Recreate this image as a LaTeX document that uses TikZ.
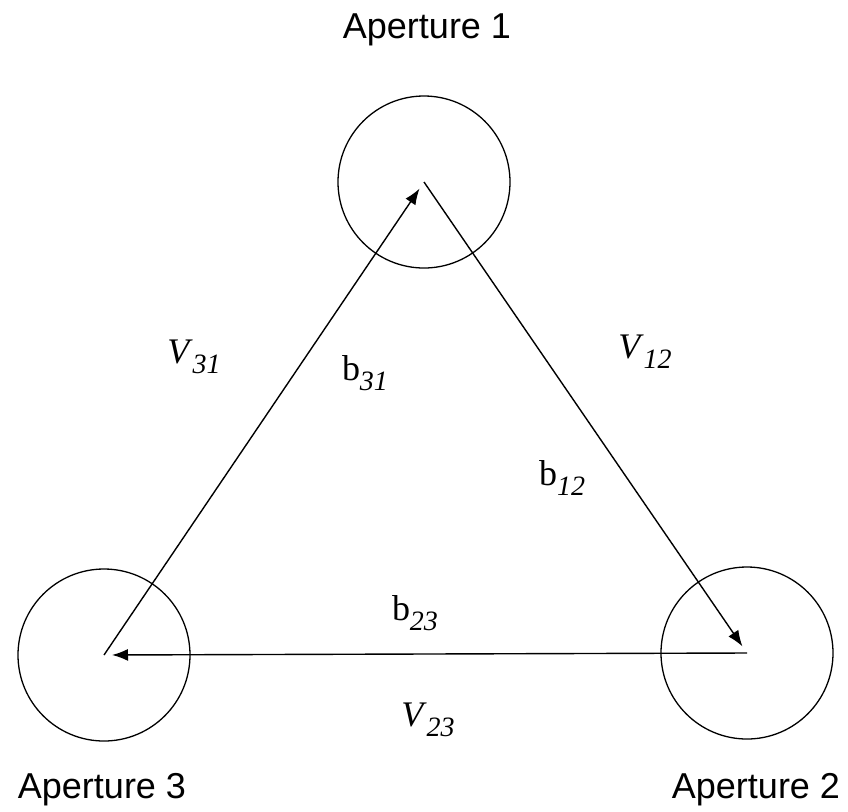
\documentclass[tikz,border=0pt]{standalone}
\usepackage{fontspec}
\setmainfont{Liberation Serif}
\newfontfamily\apfont{Liberation Sans}
\usetikzlibrary{arrows.meta}

\newcommand\lowsub[1]{\raisebox{-0.6ex}{\fontsize{14}{15}\selectfont\itshape #1}}

\tikzset{
  aperture/.style={draw, circle, line width=0.65pt, minimum size=86pt, inner sep=0pt},
  aplabel/.style={font=\apfont\fontsize{18}{20}\selectfont},
  vec/.style={line width=0.7pt, -{Latex[length=8pt,width=6pt]}, shorten >=4pt},
  sym/.style={font=\fontsize{18}{20}\selectfont, inner sep=0pt}
}

\begin{document}
\begin{tikzpicture}[x=0.5pt, y=-0.5pt]
  \useasboundingbox (0,0) rectangle (848,811);

  % the three apertures
  \node[aperture] (ap1) at (424,182) {};
  \node[aperture] (ap2) at (747,653) {};
  \node[aperture] (ap3) at (104,655) {};

  \node[aplabel] (t1) at (427,30) {Aperture 1};
  \node[aplabel] (t2) at (756,790) {Aperture 2};
  \node[aplabel] (t3) at (102,790) {Aperture 3};

  % baselines
  \draw[vec] (ap3.center) -- (ap1.center);
  \draw[vec] (ap1.center) -- (ap2.center);
  \draw[vec] (ap2.center) -- (ap3.center);

  \node[sym] (v31) at (194,357) {\textit{V}\lowsub{31}};
  \node[sym] (b31) at (365,373) {b\lowsub{31}};
  \node[sym] (v12) at (645,352) {\textit{V}\lowsub{12}};
  \node[sym] (b12) at (562,478) {b\lowsub{12}};
  \node[sym] (b23) at (415,613) {b\lowsub{23}};
  \node[sym] (v23) at (428,720) {\textit{V}\lowsub{23}};
\end{tikzpicture}
\end{document}
